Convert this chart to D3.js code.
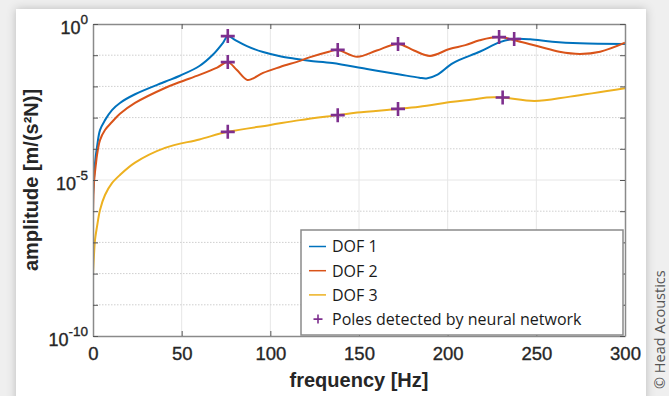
<!DOCTYPE html>
<html>
<head>
<meta charset="utf-8">
<script src="https://cdn.jsdelivr.net/npm/d3@7"></script>
<style>
  body { margin: 0; background: #efefef; }
  svg { display: block; }
</style>
</head>
<body>
<svg width="669" height="396"></svg>
<script>
// values: frequency in Hz, amplitude in m/(s²N)
const freq1 = [0, 0.56, 1.13, 2.26, 3.95, 6.77, 10.7, 15.2, 23.7, 40.6, 49, 60, 67.7, 73.3, 76, 80, 86.8, 95.9, 105.5, 115, 122, 135, 154.5, 173, 184, 188, 194, 203, 218, 229.5, 237, 246.5, 259, 274.6, 300];
const dof1 = [3.5e-6, 1.15e-5, 3.5e-5, 1.15e-4, 3.98e-4, 8.3e-4, 1.74e-3, 2.95e-3, 5.6e-3, 1.41e-2, 2.2e-2, 4.5e-2, 1.05e-1, 2.5e-1, 4.1e-1, 3.1e-1, 1.95e-1, 1.26e-1, 9.3e-2, 7.6e-2, 6.6e-2, 5.6e-2, 3.6e-2, 2.4e-2, 1.9e-2, 1.8e-2, 2.35e-2, 5.6e-2, 1.29e-1, 2.63e-1, 3.3e-1, 3.24e-1, 2.7e-1, 2.4e-1, 2.3e-1];

const freq2 = [0, 0.56, 1.7, 2.26, 3.95, 6.77, 10.7, 15.2, 23.7, 40.6, 49, 60, 70, 76, 81, 86.8, 89.6, 95.9, 105.5, 116.7, 122, 133, 138, 149, 160, 172, 181, 190, 201, 210, 218, 229, 240.8, 252, 263, 274.6, 286, 300];
const dof2 = [7.6e-7, 7.9e-6, 3.5e-5, 6.3e-5, 1.9e-4, 4.0e-4, 7.2e-4, 1.32e-3, 2.95e-3, 8.9e-3, 1.38e-2, 2.34e-2, 4.0e-2, 6.0e-2, 3.4e-2, 1.62e-2, 1.74e-2, 2.7e-2, 4.2e-2, 6.6e-2, 8.5e-2, 1.29e-1, 1.48e-1, 8.9e-2, 1.41e-1, 2.3e-1, 1.41e-1, 9.5e-2, 1.58e-1, 2.1e-1, 3.0e-1, 3.8e-1, 2.7e-1, 1.86e-1, 1.29e-1, 1.1e-1, 1.29e-1, 2.5e-1];

const freq3 = [0, 0.56, 1.13, 2.26, 3.95, 6.77, 10.7, 15.2, 23.7, 40.6, 60, 76, 100, 116.7, 138, 149, 172, 184, 203, 214, 222, 231, 249, 269, 300];
const dof3 = [1e-8, 4.0e-8, 1.2e-7, 3.2e-7, 1.1e-6, 3.3e-6, 7.9e-6, 1.45e-5, 3.6e-5, 1.07e-4, 2.0e-4, 3.5e-4, 5.8e-4, 8.3e-4, 1.2e-3, 1.45e-3, 1.9e-3, 2.24e-3, 3.2e-3, 3.8e-3, 4.4e-3, 4.4e-3, 3.4e-3, 4.7e-3, 8.7e-3];

const poleFreq = [76, 76, 76, 138, 138, 172, 172, 229, 231, 237.5];
const poleAmp = [4.1e-1, 6.0e-2, 3.5e-4, 1.48e-1, 1.2e-3, 2.3e-1, 1.9e-3, 3.8e-1, 4.4e-3, 3.3e-1];

const xTicks = [0, 50, 100, 150, 200, 250, 300];
const yTicks = [1e-10, 1e-9, 1e-8, 1e-7, 1e-6, 1e-5, 1e-4, 1e-3, 1e-2, 1e-1, 1];
const yLabelled = [1, 1e-5, 1e-10];
const seriesNames = ["DOF 1", "DOF 2", "DOF 3"];
const seriesColors = ["#0072BD", "#D95319", "#EDB120"];
const poleName = "Poles detected by neural network";
const poleColor = "#7E2F8E";

const margin = {top: 24, right: 44, bottom: 60, left: 93},
  width = 669 - margin.left - margin.right,
  height = 396 - margin.top - margin.bottom;

const root = d3.select("svg");

// page background and white card with soft shadow
const defs = root.append("defs");
const shadow = defs.append("filter").attr("id", "shadow")
  .attr("x", "-10%").attr("y", "-10%").attr("width", "120%").attr("height", "120%");
shadow.append("feDropShadow")
  .attr("dx", 0).attr("dy", 0).attr("stdDeviation", 5)
  .attr("flood-color", "#000").attr("flood-opacity", 0.22);
defs.append("clipPath").attr("id", "plotclip")
  .append("rect").attr("width", width).attr("height", height);

root.append("rect").attr("width", 669).attr("height", 396).attr("fill", "#efefef");
root.append("rect")
  .attr("x", 16).attr("y", 9).attr("width", 630).attr("height", 400)
  .attr("fill", "#fff").attr("filter", "url(#shadow)");

root.append("text")
  .attr("transform", "translate(665, 389) rotate(-90)")
  .attr("font-family", "'Open Sans', sans-serif")
  .attr("font-size", "14.5px")
  .attr("fill", "#555")
  .text("© Head Acoustics");

const svg = root.append("g")
  .attr("transform", `translate(${margin.left}, ${margin.top})`);

const x = d3.scaleLinear().domain([0, 300]).range([0, width]);
const y = d3.scaleLog().domain([1e-10, 1]).range([height, 0]);

// grid
svg.append("g")
  .selectAll("line")
  .data(xTicks.slice(1, -1))
  .join("line")
  .attr("x1", d => x(d)).attr("x2", d => x(d))
  .attr("y1", 0).attr("y2", height)
  .attr("stroke", "#e6e6e6").attr("stroke-width", 1);

svg.append("g")
  .selectAll("line")
  .data(yTicks.slice(1, -1))
  .join("line")
  .attr("x1", 0).attr("x2", width)
  .attr("y1", d => y(d)).attr("y2", d => y(d))
  .attr("stroke", d => yLabelled.includes(d) ? "#e6e6e6" : "#cfcfcf")
  .attr("stroke-width", 1)
  .attr("stroke-dasharray", d => yLabelled.includes(d) ? null : "1.5,1.5");

// curves
const series = [
  {name: seriesNames[0], color: seriesColors[0], f: freq1, a: dof1},
  {name: seriesNames[1], color: seriesColors[1], f: freq2, a: dof2},
  {name: seriesNames[2], color: seriesColors[2], f: freq3, a: dof3}
];

const line = d3.line()
  .x(d => x(d[0]))
  .y(d => y(d[1]))
  .curve(d3.curveCatmullRom.alpha(0.5));

svg.append("g")
  .attr("clip-path", "url(#plotclip)")
  .selectAll("path")
  .data(series)
  .join("path")
  .attr("d", s => line(s.f.map((f, i) => [f, s.a[i]])))
  .attr("fill", "none")
  .attr("stroke", s => s.color)
  .attr("stroke-width", 2);

// pole markers
const plus = r => `M${-r},0H${r}M0,${-r}V${r}`;
svg.append("g")
  .selectAll("path")
  .data(poleFreq.map((f, i) => [f, poleAmp[i]]))
  .join("path")
  .attr("transform", d => `translate(${x(d[0])}, ${y(d[1])})`)
  .attr("d", plus(7))
  .attr("stroke", poleColor)
  .attr("stroke-width", 2.6)
  .attr("fill", "none");

// axes
const axisColor = "#8a8a8a";
const tickFont = "Arial, 'Liberation Sans', sans-serif";

const xAxis = svg.append("g")
  .attr("transform", `translate(0, ${height})`)
  .call(d3.axisBottom(x).tickValues(xTicks).tickSize(-5).tickPadding(11).tickSizeOuter(0));
const xTop = svg.append("g")
  .call(d3.axisTop(x).tickValues(xTicks).tickSize(-5).tickFormat("").tickSizeOuter(0));
const yAxis = svg.append("g")
  .call(d3.axisLeft(y).tickValues(yTicks).tickSize(-5).tickFormat("").tickSizeOuter(0));
const yRight = svg.append("g")
  .attr("transform", `translate(${width}, 0)`)
  .call(d3.axisRight(y).tickValues(yTicks).tickSize(-5).tickFormat("").tickSizeOuter(0));

[xAxis, xTop, yAxis, yRight].forEach(g => {
  g.select(".domain").attr("stroke", axisColor).attr("stroke-width", 1.5);
  g.selectAll(".tick line").attr("stroke", "#555").attr("stroke-width", 1);
});
xAxis.selectAll(".tick text")
  .attr("font-family", tickFont)
  .attr("font-size", "18.5px")
  .attr("fill", "#262626")
  .attr("stroke", "#262626")
  .attr("stroke-width", 0.35);

// y tick labels as powers of ten
const yLab = svg.append("g")
  .selectAll("text")
  .data(yLabelled)
  .join("text")
  .attr("x", -5)
  .attr("y", d => y(d) + 10)
  .attr("text-anchor", "end")
  .attr("font-family", tickFont)
  .attr("fill", "#262626")
  .attr("stroke", "#262626")
  .attr("stroke-width", 0.35);
yLab.append("tspan").attr("font-size", "18px").text("10");
yLab.append("tspan").attr("font-size", "13.5px").attr("dy", -10)
  .text(d => Math.round(Math.log10(d)) === 0 ? "0" : "-" + Math.abs(Math.round(Math.log10(d))));

// axis titles
svg.append("text")
  .attr("x", width / 2)
  .attr("y", height + 51)
  .attr("text-anchor", "middle")
  .attr("font-family", tickFont)
  .attr("font-size", "20px")
  .attr("font-weight", "bold")
  .attr("fill", "#262626")
  .text("frequency [Hz]");

svg.append("text")
  .attr("transform", `translate(${38 - margin.left}, ${height / 2}) rotate(-90)`)
  .attr("text-anchor", "middle")
  .attr("font-family", tickFont)
  .attr("font-size", "20px")
  .attr("font-weight", "bold")
  .attr("fill", "#262626")
  .text("amplitude [m/(s²N)]");

// legend
const legend = svg.append("g").attr("transform", `translate(${301 - margin.left}, ${230 - margin.top})`);
legend.append("rect")
  .attr("width", 322).attr("height", 105)
  .attr("fill", "#fff")
  .attr("stroke", axisColor).attr("stroke-width", 1.5);

const items = series.map(s => ({name: s.name, color: s.color, pole: false}))
  .concat([{name: poleName, color: poleColor, pole: true}]);

const row = legend.selectAll("g.item")
  .data(items)
  .join("g")
  .attr("class", "item")
  .attr("transform", (d, i) => `translate(0, ${16.5 + i * 24.2})`);

row.filter(d => !d.pole).append("line")
  .attr("x1", 8).attr("x2", 25)
  .attr("stroke", d => d.color).attr("stroke-width", 1.5);
row.filter(d => d.pole).append("path")
  .attr("transform", "translate(17, 0)")
  .attr("d", plus(4.5))
  .attr("stroke", poleColor).attr("stroke-width", 1.6);
row.append("text")
  .attr("x", 31)
  .attr("y", 5.8)
  .attr("font-family", "'Open Sans', sans-serif")
  .attr("font-size", "16px")
  .attr("fill", "#1a1a1a")
  .text(d => d.name);
</script>
</body>
</html>
